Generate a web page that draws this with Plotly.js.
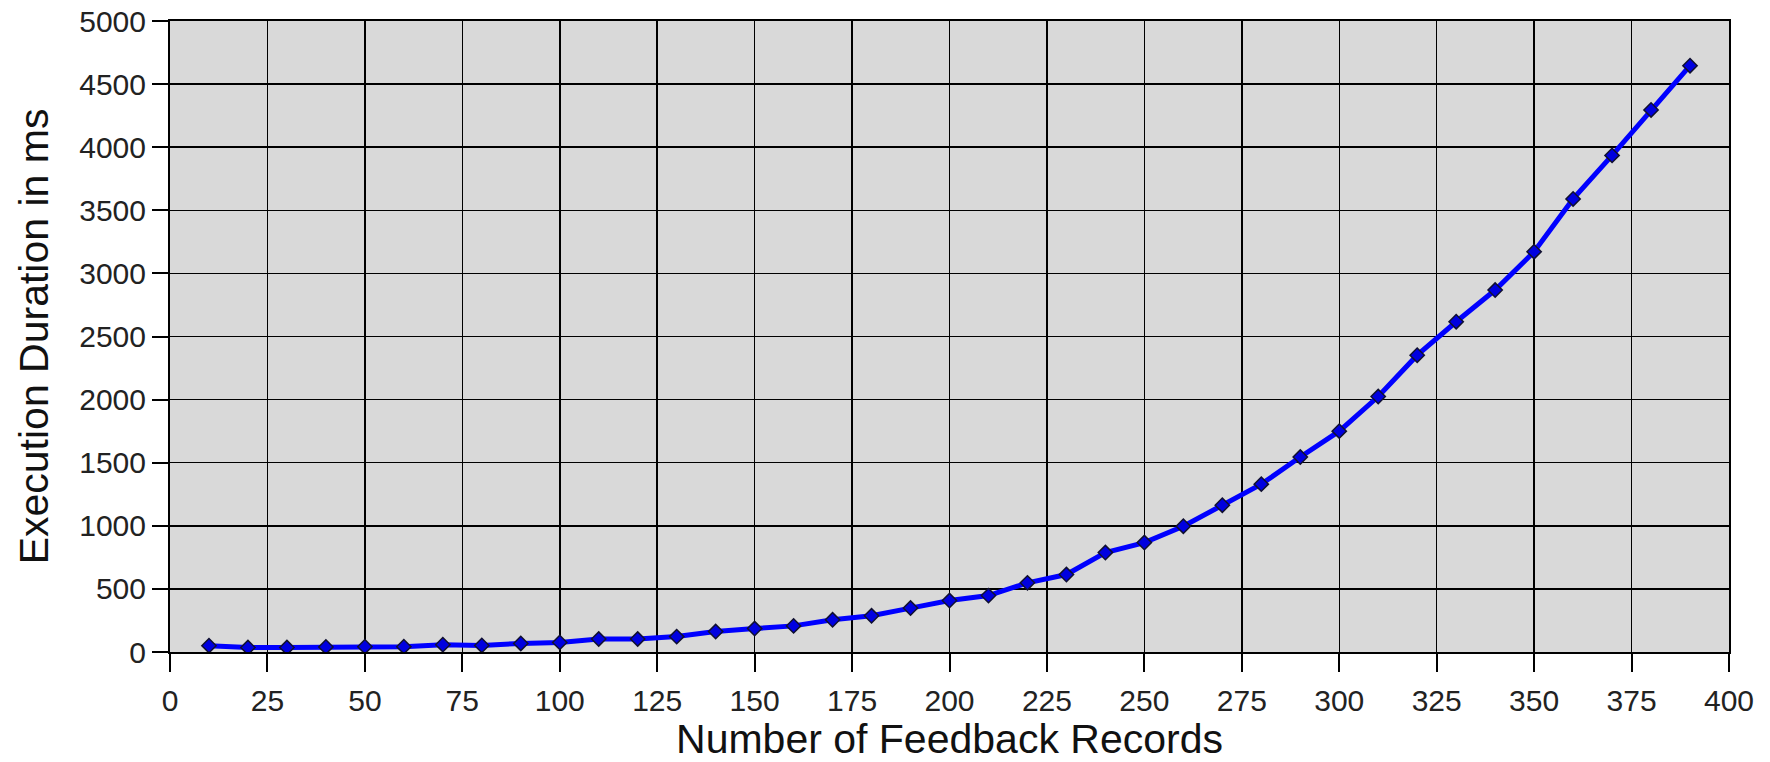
<!DOCTYPE html>
<html>
<head>
<meta charset="utf-8">
<script src="https://cdn.plot.ly/plotly-3.0.1.min.js"></script>
<style>
html, body { margin: 0; padding: 0; background: #ffffff; }
#chart { width: 1770px; height: 762px; }
</style>
</head>
<body>
<div id="chart"></div>
<script>
const records = [10, 20, 30, 40, 50, 60, 70, 80, 90, 100,
                 110, 120, 130, 140, 150, 160, 170, 180, 190, 200,
                 210, 220, 230, 240, 250, 260, 270, 280, 290, 300,
                 310, 320, 330, 340, 350, 360, 370, 380, 390];
const durationMs = [50, 35, 35, 40, 42, 42, 58, 52, 68, 76,
                    103, 103, 122, 162, 186, 207, 255, 287, 348, 408,
                    447, 548, 614, 788, 867, 997, 1163, 1330, 1545, 1750,
                    2024, 2352, 2617, 2868, 3172, 3590, 3935, 4295, 4646];
const xTicks = [0, 25, 50, 75, 100, 125, 150, 175, 200, 225, 250, 275, 300, 325, 350, 375, 400];
const yTicks = [0, 500, 1000, 1500, 2000, 2500, 3000, 3500, 4000, 4500, 5000];

const trace = {
  x: records,
  y: durationMs,
  type: 'scatter',
  mode: 'lines+markers',
  line: { color: '#0000ff', width: 5 },
  marker: { symbol: 'diamond', size: 11, color: '#0000e0', line: { color: '#101030', width: 1.5 } },
  hoverinfo: 'x+y'
};

const font = "Liberation Sans, Arial, sans-serif";

const layout = {
  width: 1770,
  height: 762,
  margin: { l: 170, r: 41, t: 21, b: 110 },
  paper_bgcolor: '#ffffff',
  plot_bgcolor: '#d9d9d9',
  showlegend: false,
  font: { family: font, color: '#222222' },
  xaxis: {
    range: [0, 400],
    tickvals: xTicks,
    ticktext: xTicks.map(String),
    ticks: 'outside',
    ticklen: 18,
    tickwidth: 2,
    tickcolor: '#000000',
    ticklabelstandoff: 3,
    showgrid: true,
    gridcolor: '#000000',
    gridwidth: 1.5,
    zeroline: false,
    showline: true,
    linecolor: '#000000',
    linewidth: 2,
    mirror: true,
    tickfont: { family: font, size: 30, color: '#222222' },
    title: { text: 'Number of Feedback Records', font: { family: font, size: 41, color: '#111111' }, standoff: 13 },
    automargin: false
  },
  yaxis: {
    range: [0, 5000],
    tickvals: yTicks,
    ticktext: yTicks.map(String),
    ticks: 'outside',
    ticklen: 16,
    tickwidth: 2,
    tickcolor: '#000000',
    showgrid: true,
    gridcolor: '#000000',
    gridwidth: 1.5,
    zeroline: false,
    showline: true,
    linecolor: '#000000',
    linewidth: 2,
    mirror: true,
    tickfont: { family: font, size: 30, color: '#222222' },
    title: { text: 'Execution Duration in ms', font: { family: font, size: 41, color: '#111111' }, standoff: 18 },
    automargin: false
  }
};

Plotly.newPlot('chart', [trace], layout, { displayModeBar: false, staticPlot: true });
</script>
</body>
</html>
